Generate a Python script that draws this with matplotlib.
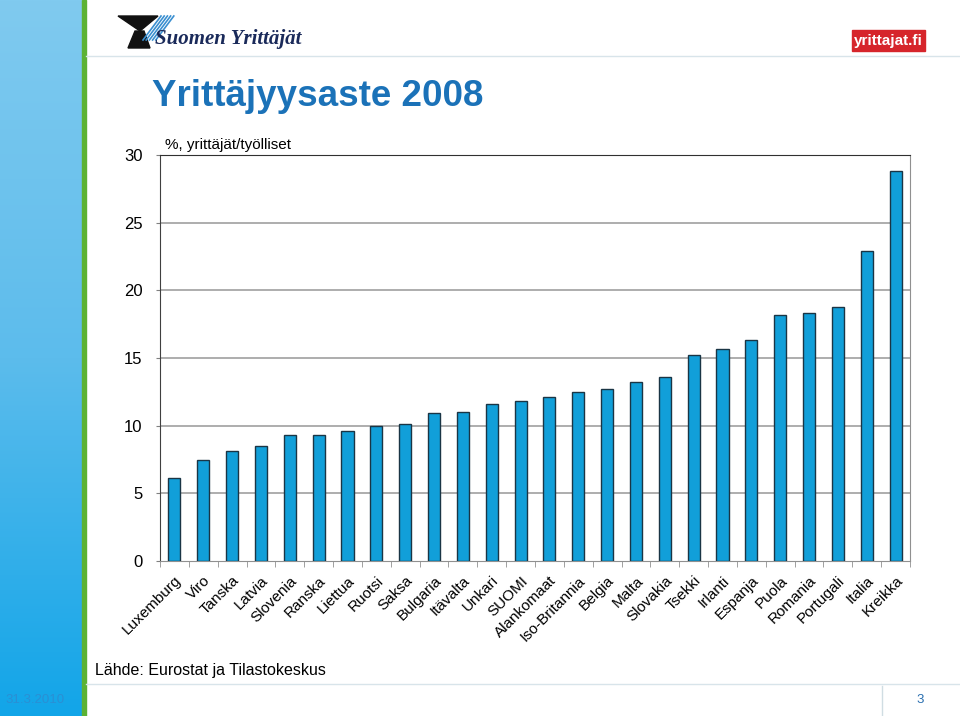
import matplotlib
matplotlib.use("Agg")
import matplotlib.pyplot as plt
import numpy as np
from matplotlib.patches import Rectangle, Polygon
from matplotlib.colors import LinearSegmentedColormap

plt.rcParams['font.family'] = ['Liberation Sans', 'DejaVu Sans']

countries = ["Luxemburg", "Viro", "Tanska", "Latvia", "Slovenia", "Ranska", "Liettua",
             "Ruotsi", "Saksa", "Bulgaria", "Itävalta", "Unkari", "SUOMI", "Alankomaat",
             "Iso-Britannia", "Belgia", "Malta", "Slovakia", "Tsekki", "Irlanti", "Espanja",
             "Puola", "Romania", "Portugali", "Italia", "Kreikka"]
values = [6.1, 7.5, 8.1, 8.5, 9.3, 9.3, 9.6, 10.0, 10.1, 10.9, 11.0, 11.6, 11.8, 12.1,
          12.5, 12.7, 13.2, 13.6, 15.2, 15.7, 16.3, 18.2, 18.3, 18.8, 22.9, 28.8]
yticks = [0, 5, 10, 15, 20, 25, 30]

W, H = 960, 716
fig = plt.figure(figsize=(W/100, H/100), dpi=100)

# background decorations (pixel coords)
bg = fig.add_axes([0, 0, 1, 1])
bg.set_xlim(0, W)
bg.set_ylim(H, 0)
bg.axis('off')
grad = np.linspace(0, 1, 256).reshape(-1, 1)
cmap = LinearSegmentedColormap.from_list('b', ['#80caef', '#5cbcec', '#12a5e8'])
bg.imshow(grad, extent=[0, 82, H, 0], cmap=cmap, aspect='auto', zorder=0)
bg.add_patch(Rectangle((82, 0), 4, H, color='#5cb234', zorder=1))
bg.plot([86, W], [56, 56], color='#d8e4ea', lw=1)
bg.plot([86, W], [684, 684], color='#d8e4ea', lw=1)
bg.plot([882, 882], [686, 716], color='#d0dde3', lw=1)
bg.text(5, 700, "31.3.2010", color='#2a8fd4', fontsize=9.5, va='center', ha='left')
bg.text(920, 700, "3", color='#2a6fb0', fontsize=9.5, va='center', ha='center')
# logo Suomen Yrittäjät
bg.add_patch(Polygon([[118, 16], [158, 16], [140, 31]], closed=True, color='#111111'))
bg.add_patch(Polygon([[135, 31], [144, 31], [150, 48], [128, 48]], closed=True, color='#111111'))
for k in range(5):
    bg.plot([143 + k*3.2, 161 + k*3.2], [40, 16], color='#3a8fd0', lw=1.2)
bg.text(155, 39, "Suomen Yrittäjät", family='Liberation Serif', style='italic',
        weight='bold', fontsize=15, color='#1a2a5a', va='center', ha='left')
# logo yrittajat.fi
bg.add_patch(Rectangle((852, 30), 73, 21, color='#d6252b'))
bg.text(888.5, 41, "yrittajat.fi", color='white', weight='bold', fontsize=11,
        va='center', ha='center')
# title
bg.text(152, 96, "Yrittäjyysaste 2008", color='#1b72b8', fontsize=26.5, weight='bold',
        va='center', ha='left')
bg.text(165, 145, "%, yrittäjät/työlliset", color='black', fontsize=11,
        va='center', ha='left')
bg.text(95, 671, "Lähde: Eurostat ja Tilastokeskus", color='black', fontsize=11.5,
        va='center', ha='left')

# chart
left, right, top, bottom = 160, 910, 155, 561
ax = fig.add_axes([left/W, (H-bottom)/H, (right-left)/W, (bottom-top)/H])
x = np.arange(len(countries))
ax.bar(x, values, width=0.42, color='#119fd9', edgecolor='#1a3545', linewidth=1.0, zorder=3)
ax.set_xlim(-0.5, len(countries)-0.5)
ax.set_ylim(0, 30)
ax.set_yticks(yticks)
ax.set_yticklabels([str(v) for v in yticks], fontsize=12)
for v in yticks[1:-1]:
    ax.axhline(v, color='#a0a0a0', lw=1.2, zorder=1)
ax.spines['left'].set_color('#404040')
ax.spines['top'].set_color('#303030')
ax.spines['right'].set_color('#909090')
ax.spines['bottom'].set_color('#909090')
ax.tick_params(axis='y', length=3, color='#808080', pad=9.5)
ax.set_xticks(x)
ax.set_xticklabels(countries, rotation=45, ha='right', rotation_mode='anchor', fontsize=11)
ax.tick_params(axis='x', length=0, pad=9)
ax.set_xticks(np.arange(len(countries)+1) - 0.5, minor=True)
ax.tick_params(axis='x', which='minor', length=4, color='#909090')
ax.set_facecolor('white')

fig.savefig("out.png", dpi=100)
